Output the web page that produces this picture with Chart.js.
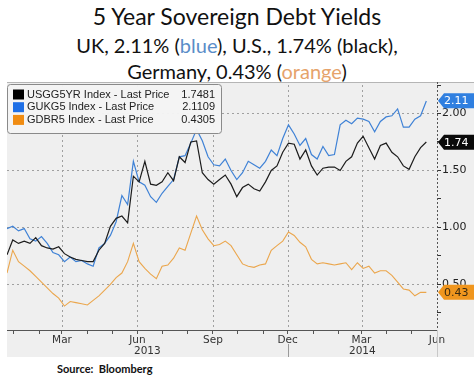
<!DOCTYPE html>
<html><head><meta charset="utf-8">
<script src="https://cdn.jsdelivr.net/npm/chart.js@4/dist/chart.umd.min.js"></script>
<style>
html,body{margin:0;padding:0;background:#fff;width:474px;height:379px;overflow:hidden}
.t{position:absolute;left:0;width:474px;text-align:center;font-family:Lato,'Open Sans',sans-serif;color:#111;white-space:nowrap}
#l1{top:2px;font-size:23px;line-height:28px}
#l2{top:32px;font-size:20px;line-height:26px}
#l3{top:58px;font-size:20px;line-height:26px}
.b{color:#5a8dc8}.o{color:#e6a36b}
#wrap{position:absolute;left:7px;top:82px;width:467px;height:275px}
#src{position:absolute;left:57px;top:362px;font-family:Lato,sans-serif;font-weight:bold;font-size:11px;color:#111}
</style></head>
<body>
<div class="t" id="l1">5 Year Sovereign Debt Yields</div>
<div class="t" id="l2">UK, 2.11% (<span class="b">blue</span>), U.S., 1.74% (black),</div>
<div class="t" id="l3">Germany, 0.43% (<span class="o">orange</span>)</div>
<div id="wrap"><canvas id="c"></canvas></div>
<div id="src">Source:&nbsp; Bloomberg</div>
<script>
// days since 1 Jan 2013 (weekly samples)
const days = [-8,-1,6,13,20,27,34,41,48,55,62,69,76,83,90,97,104,111,118,125,132,139,146,153,160,167,174,181,188,195,202,209,216,223,230,237,244,251,258,265,272,279,286,293,300,307,314,321,328,335,342,349,356,363,370,377,384,391,398,405,412,419,426,433,440,447,454,461,468,475,482,489,496,503];
const ukYield = [0.99,1.01,0.97,0.99,0.90,0.88,0.92,0.86,0.78,0.76,0.70,0.74,0.70,0.71,0.68,0.66,0.82,0.86,0.93,1.05,1.28,1.20,1.58,1.40,1.37,1.27,1.22,1.30,1.36,1.42,1.62,1.63,1.74,1.86,1.76,1.62,1.55,1.54,1.60,1.50,1.42,1.48,1.58,1.55,1.52,1.58,1.68,1.63,1.78,1.90,1.82,1.72,1.78,1.64,1.60,1.71,1.63,1.64,1.90,1.94,1.91,1.96,1.95,1.93,1.84,1.93,1.97,1.98,2.04,1.88,1.88,1.95,1.98,2.11];
const usYield = [0.76,0.89,0.86,0.88,0.86,0.91,0.84,0.82,0.81,0.83,0.77,0.74,0.72,0.71,0.70,0.70,0.80,0.86,1.01,1.08,1.10,1.04,1.45,1.40,1.58,1.38,1.37,1.40,1.48,1.41,1.62,1.57,1.75,1.76,1.48,1.42,1.38,1.42,1.46,1.38,1.27,1.35,1.38,1.34,1.32,1.40,1.50,1.54,1.66,1.74,1.73,1.60,1.68,1.54,1.46,1.52,1.53,1.53,1.50,1.58,1.62,1.74,1.80,1.70,1.60,1.72,1.74,1.66,1.62,1.54,1.51,1.62,1.70,1.75];
const deYield = [0.60,0.80,0.70,0.66,0.62,0.57,0.52,0.47,0.42,0.38,0.31,0.35,0.34,0.33,0.32,0.36,0.40,0.45,0.50,0.56,0.60,0.70,0.86,0.70,0.64,0.59,0.55,0.66,0.67,0.73,0.82,0.80,0.95,1.10,0.98,0.90,0.84,0.85,0.88,0.84,0.76,0.68,0.66,0.65,0.67,0.68,0.80,0.84,0.88,0.96,0.93,0.87,0.83,0.72,0.68,0.69,0.68,0.67,0.68,0.69,0.63,0.69,0.64,0.66,0.60,0.62,0.62,0.58,0.52,0.46,0.45,0.40,0.43,0.43];

const seriesNames = ['USGG5YR Index - Last Price','GUKG5 Index - Last Price','GDBR5 Index - Last Price'];
const legendValues = ['1.7481','2.1109','0.4305'];
const tagValues = [1.7481, 2.1109, 0.4305];
const monthStarts = [0,31,59,90,120,151,181,212,243,273,304,334,365,396,424,455,485,516];
const monthLabels = ['','','Mar','','','Jun','','','Sep','','','Dec','','','Mar','','','Jun'];
const yearLabels = ['2013','2014'];
const yearCenters = [163,425];
const yearBreak = 334;
const yTicks = [0.25,0.5,0.75,1.0,1.25,1.5,1.75,2.0,2.25];
const yLabelTicks = [0.5,1.0,1.5,2.0];

const lineCol = {us:'#1c1c1c', uk:'#3f82d6', de:'#eba64c'};
const boxCol = ['#000000','#1e6fe6','#f08c12'];
const tagFill = ['#0a0a0a','#2f7fe0','#f0961e'];
const tagText = ['#ffffff','#ffffff','#3a2a10'];

const pts = arr => arr.map((v,i)=>({x:days[i], y:v}));
const F = 'DejaVu Sans';
const LF = 'Liberation Sans';

const deco = {
  id:'deco',
  beforeDraw(c){
    const ctx=c.ctx; ctx.save(); ctx.fillStyle='#efefef'; ctx.fillRect(0,0,c.width,c.height);
    ctx.strokeStyle='#b5b5b5'; ctx.beginPath(); ctx.moveTo(0,0.5); ctx.lineTo(c.width,0.5); ctx.stroke();
    ctx.restore();
  },
  beforeDatasetsDraw(c){
    const {ctx, chartArea:a, scales:{x,y}} = c;
    ctx.save(); ctx.strokeStyle='#a0a0a0'; ctx.lineWidth=1; ctx.setLineDash([2,3]);
    monthStarts.forEach((d,i)=>{ if(!monthLabels[i] || i===monthStarts.length-1) return;
      const px=Math.round(x.getPixelForValue(d))+0.5;
      ctx.beginPath(); ctx.moveTo(px,a.top); ctx.lineTo(px,a.bottom); ctx.stroke(); });
    yLabelTicks.forEach(v=>{ const py=Math.round(y.getPixelForValue(v))+0.5;
      ctx.beginPath(); ctx.moveTo(a.left,py); ctx.lineTo(a.right,py); ctx.stroke(); });
    ctx.strokeStyle='#555'; ctx.setLineDash([2,2]);
    const rx=Math.round(a.right)+0.5;
    ctx.beginPath(); ctx.moveTo(rx,0); ctx.lineTo(rx,a.bottom); ctx.stroke();
    ctx.setLineDash([]); ctx.strokeStyle='#c8c8c8';
    ctx.beginPath(); ctx.moveTo(rx,a.bottom); ctx.lineTo(rx,c.height); ctx.stroke();
    ctx.restore();
  },
  afterDraw(c){
    const {ctx, chartArea:a, scales:{x,y}} = c;
    ctx.save();
    const bx=0.5, by=2.5, bw=214, bh=49;
    ctx.fillStyle='rgba(244,244,244,0.97)'; ctx.strokeStyle='#8a8a8a'; ctx.lineWidth=1;
    ctx.beginPath(); if(ctx.roundRect) ctx.roundRect(bx,by,bw,bh,3); else ctx.rect(bx,by,bw,bh); ctx.fill(); ctx.stroke();
    ctx.font='11px "'+LF+'"'; ctx.textBaseline='middle';
    seriesNames.forEach((n,i)=>{
      const cy = 12.5 + i*12.7;
      ctx.fillStyle=boxCol[i]; ctx.fillRect(6, cy-5, 11, 10);
      ctx.fillStyle='#222'; ctx.textAlign='left'; ctx.fillText(n, 20, cy);
      ctx.textAlign='right'; ctx.fillText(legendValues[i], 208, cy);
    });
    ctx.font='11px "'+F+'"'; ctx.textAlign='left';
    tagValues.forEach((v,i)=>{
      const py=y.getPixelForValue(v), x0=a.right+1;
      ctx.fillStyle=tagFill[i];
      ctx.beginPath(); ctx.moveTo(x0,py); ctx.lineTo(x0+6,py-7.5); ctx.lineTo(c.width,py-7.5);
      ctx.lineTo(c.width,py+7.5); ctx.lineTo(x0+6,py+7.5); ctx.closePath(); ctx.fill();
      ctx.fillStyle=tagText[i]; ctx.fillText((Math.floor(v*100)/100).toFixed(2), x0+6, py+0.5);
    });
    ctx.font='10.5px "'+F+'"'; ctx.fillStyle='#333'; ctx.textAlign='center';
    yearLabels.forEach((t,i)=>ctx.fillText(t, x.getPixelForValue(yearCenters[i]), a.bottom+21));
    const sx=Math.round(x.getPixelForValue(yearBreak))+0.5;
    ctx.strokeStyle='#9a9a9a'; ctx.beginPath(); ctx.moveTo(sx,a.bottom+14); ctx.lineTo(sx,a.bottom+27); ctx.stroke();
    ctx.restore();
  }
};

new Chart(document.getElementById('c'), {
  type:'line',
  data:{datasets:[
    {label:seriesNames[2], data:pts(deYield), borderColor:lineCol.de, borderWidth:1.1},
    {label:seriesNames[0], data:pts(usYield), borderColor:lineCol.us, borderWidth:1.2},
    {label:seriesNames[1], data:pts(ukYield), borderColor:lineCol.uk, borderWidth:1.2}
  ]},
  options:{
    responsive:true, maintainAspectRatio:false, animation:false, devicePixelRatio:1,
    layout:{padding:{top:3,left:0,right:0,bottom:0}},
    elements:{point:{radius:0}, line:{tension:0}},
    plugins:{legend:{display:false}, tooltip:{enabled:false}},
    scales:{
      x:{type:'linear', min:-8, max:516,
        afterBuildTicks(s){ s.ticks = monthStarts.map(v=>({value:v})); },
        afterFit(s){ s.height = 27; s.paddingLeft = 0; s.paddingRight = 0; },
        grid:{drawOnChartArea:false, drawTicks:true, tickLength:4, tickColor:'#555'},
        border:{display:true, color:'#555', width:1},
        ticks:{autoSkip:false, maxRotation:0, padding:0, color:'#333', font:{family:F, size:10.5},
          callback(v){ const i=monthStarts.indexOf(v); return i>=0?monthLabels[i]:''; }}
      },
      y:{position:'right', min:0.1, max:2.25,
        afterBuildTicks(s){ s.ticks = yTicks.map(v=>({value:v})); },
        afterFit(s){ s.width = 37; s.paddingTop = 0; s.paddingBottom = 0; },
        grid:{drawOnChartArea:false, tickLength:4, tickColor:'#333'},
        border:{display:false},
        ticks:{padding:1, color:'#222', font:{family:F, size:11},
          callback(v){ return yLabelTicks.some(t=>Math.abs(t-v)<1e-6) ? v.toFixed(2) : ''; }}
      }
    }
  },
  plugins:[deco]
});
</script>
</body></html>
